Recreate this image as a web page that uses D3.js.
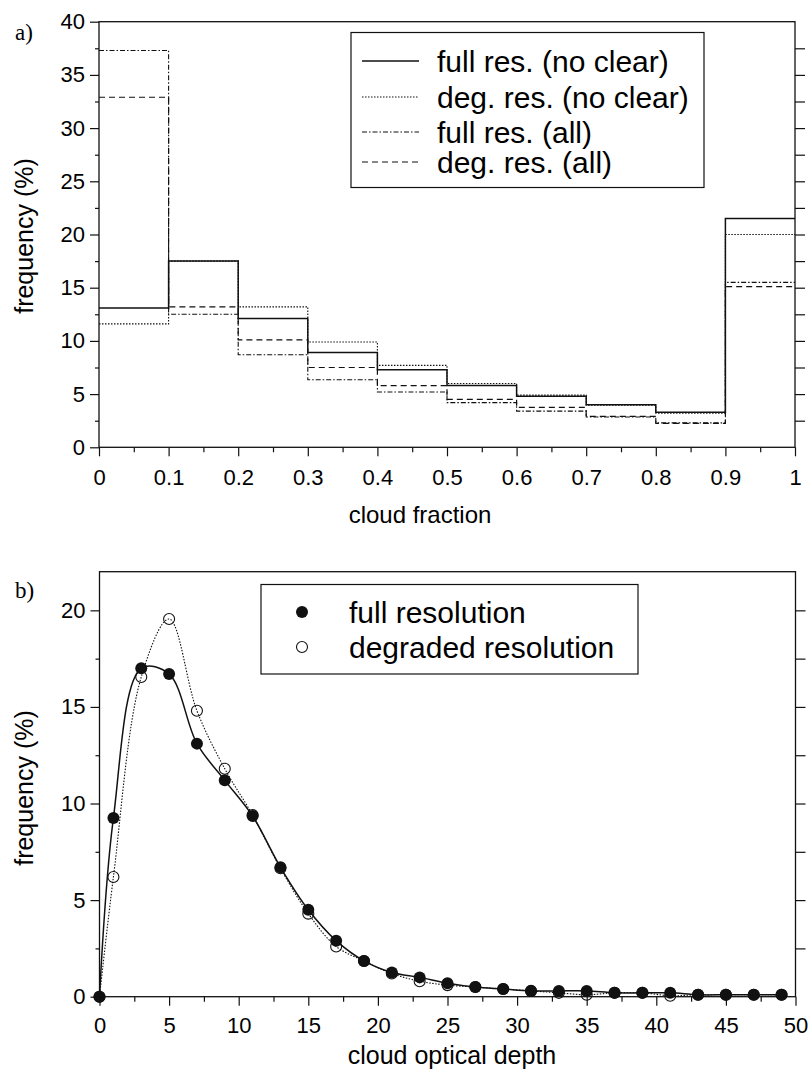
<!DOCTYPE html>
<html>
<head>
<meta charset="utf-8">
<script src="https://cdn.jsdelivr.net/npm/d3@7"></script>
<style>
  body { margin: 0; background: #fff; }
  svg { display: block; }
</style>
</head>
<body>
<script>
// ---- panel a: cloud fraction histograms (%)
const cfBins = [0, 0.1, 0.2, 0.3, 0.4, 0.5, 0.6, 0.7, 0.8, 0.9];
const fullNoClear = [13.1, 17.5, 12.1, 8.9, 7.3, 5.8, 4.8, 4.0, 3.3, 21.5];
const degNoClear  = [11.6, 17.5, 13.2, 9.9, 7.7, 6.0, 4.9, 3.95, 3.2, 20.0];
const fullAll     = [37.3, 12.5, 8.7, 6.35, 5.2, 4.2, 3.4, 2.85, 2.3, 15.5];
const degAll      = [32.9, 13.2, 10.1, 7.5, 5.8, 4.5, 3.75, 2.9, 2.25, 15.1];
const cfTicks = [0, 0.1, 0.2, 0.3, 0.4, 0.5, 0.6, 0.7, 0.8, 0.9, 1];
const freqTicksA = [0, 5, 10, 15, 20, 25, 30, 35, 40];

// ---- panel b: cloud optical depth
const odX = [0, 1, 3, 5, 7, 9, 11, 13, 15, 17, 19, 21, 23, 25, 27, 29, 31, 33, 35, 37, 39, 41, 43, 45, 47, 49];
const fullRes = [0, 9.25, 17.0, 16.7, 13.1, 11.2, 9.35, 6.7, 4.5, 2.9, 1.85, 1.25, 1.0, 0.7, 0.5, 0.4, 0.3, 0.3, 0.3, 0.2, 0.2, 0.2, 0.1, 0.1, 0.1, 0.1];
const degRes  = [0, 6.2, 16.55, 19.55, 14.8, 11.8, 9.4, 6.65, 4.3, 2.6, 1.85, 1.2, 0.8, 0.6, 0.5, 0.4, 0.3, 0.2, 0.1, 0.2, 0.2, 0.05, 0.1, 0.1, 0.1, 0.1];
const odTicks = [0, 5, 10, 15, 20, 25, 30, 35, 40, 45, 50];
const freqTicksB = [0, 5, 10, 15, 20];

const W = 810, H = 1076;
const sans = "'Liberation Sans', Arial, Helvetica, sans-serif";
const serif = "'Liberation Serif', 'Times New Roman', serif";

const svg = d3.select("body").append("svg")
    .attr("width", W)
    .attr("height", H)
    .attr("viewBox", [0, 0, W, H])
    .attr("font-family", sans);

// styles for the four histogram lines
const histSeries = [
    {name: "full res. (no clear)", values: fullNoClear, dash: null, width: 1.5, ly: 61},
    {name: "deg. res. (no clear)", values: degNoClear, dash: "1.5,1.5", width: 1.1, ly: 97},
    {name: "full res. (all)", values: fullAll, dash: "5,2,1.5,2", width: 1.1, ly: 132},
    {name: "deg. res. (all)", values: degAll, dash: "6,4", width: 1.2, ly: 162}
];

function frame(g, x, y) {
    const [x0, x1] = x.range();
    const [y0, y1] = y.range();
    g.append("rect")
        .attr("x", x0).attr("y", y1)
        .attr("width", x1 - x0).attr("height", y0 - y1)
        .attr("fill", "none").attr("stroke", "#111").attr("stroke-width", 1.3);
}

function axes(g, x, y, o) {
    const [x0, x1] = x.range();
    const y0 = y.range()[0];

    // bottom, major + minor
    g.append("g").attr("transform", `translate(0,${y0})`)
        .call(d3.axisBottom(x).tickValues(o.xTicks).tickSize(9).tickPadding(o.xPad).tickFormat(o.xFmt))
        .call(a => a.select(".domain").remove())
        .call(a => a.selectAll("text").attr("font-size", 22).attr("font-family", sans).attr("fill", "#000"));
    g.append("g").attr("transform", `translate(0,${y0})`)
        .call(d3.axisBottom(x).tickValues(o.xMinor).tickSize(5).tickFormat(""))
        .call(a => a.select(".domain").remove());

    // left, major + minor
    g.append("g").attr("transform", `translate(${x0},0)`)
        .call(d3.axisLeft(y).tickValues(o.yTicks).tickSize(9).tickPadding(5))
        .call(a => a.select(".domain").remove())
        .call(a => a.selectAll("text").attr("font-size", 22).attr("font-family", sans).attr("fill", "#000"));
    g.append("g").attr("transform", `translate(${x0},0)`)
        .call(d3.axisLeft(y).tickValues(o.yMinor).tickSize(4).tickFormat(""))
        .call(a => a.select(".domain").remove());

    // right, outward ticks every 2.5
    g.append("g").attr("transform", `translate(${x1},0)`)
        .call(d3.axisRight(y).tickValues(o.yRight).tickSize(10).tickFormat(""))
        .call(a => a.select(".domain").remove());

    g.selectAll(".tick line").attr("stroke", "#111").attr("stroke-width", 1.2);
}

// ================= panel a =================
const xA = d3.scaleLinear([0, 1], [99, 795]);
const yA = d3.scaleLinear([0, 40], [447.3, 21.7]);
const gA = svg.append("g");

const stepLine = d3.line()
    .x(d => xA(d[0]))
    .y(d => yA(d[1]))
    .curve(d3.curveStepAfter);

histSeries.forEach(s => {
    const pts = cfBins.map((b, i) => [b, s.values[i]]);
    pts.push([1, s.values[s.values.length - 1]]);
    gA.append("path")
        .attr("d", stepLine(pts))
        .attr("fill", "none")
        .attr("stroke", "#111")
        .attr("stroke-width", s.width)
        .attr("stroke-dasharray", s.dash);
});

frame(gA, xA, yA);
axes(gA, xA, yA, {
    xTicks: cfTicks,
    xMinor: d3.range(0.05, 1, 0.1),
    xFmt: d => d === 0 || d === 1 ? d3.format("d")(d) : d3.format(".1f")(d),
    xPad: 13,
    yTicks: freqTicksA,
    yMinor: d3.range(2.5, 40, 5),
    yRight: d3.range(2.5, 40, 2.5)
});

// legend a
const legA = gA.append("g");
legA.append("rect")
    .attr("x", 351).attr("y", 32.5).attr("width", 353).attr("height", 155)
    .attr("fill", "#fff").attr("stroke", "#111").attr("stroke-width", 1.2);
histSeries.forEach(s => {
    legA.append("line")
        .attr("x1", 362).attr("x2", 419).attr("y1", s.ly).attr("y2", s.ly)
        .attr("stroke", "#111").attr("stroke-width", s.width)
        .attr("stroke-dasharray", s.dash);
    legA.append("text")
        .attr("x", 437).attr("y", s.ly).attr("dy", "0.35em")
        .attr("font-size", 30).attr("fill", "#000")
        .text(s.name);
});

gA.append("text")
    .attr("x", 420).attr("y", 523)
    .attr("text-anchor", "middle").attr("font-size", 24).attr("fill", "#000")
    .text("cloud fraction");
gA.append("text")
    .attr("transform", "translate(33,236) rotate(-90)")
    .attr("text-anchor", "middle").attr("font-size", 25).attr("fill", "#000")
    .text("frequency (%)");
gA.append("text")
    .attr("x", 15).attr("y", 40)
    .attr("font-family", serif)
    .attr("font-size", 23).attr("fill", "#000")
    .text("a)");

// ================= panel b =================
const xB = d3.scaleLinear([0, 50], [99.5, 795.5]);
const yB = d3.scaleLinear([0, 22], [996.7, 571.7]);
const gB = svg.append("g");

const smooth = d3.line()
    .x((d, i) => xB(odX[i]))
    .y(d => yB(d))
    .curve(d3.curveCatmullRom.alpha(0.5));

gB.append("path")
    .attr("d", smooth(degRes))
    .attr("fill", "none").attr("stroke", "#111").attr("stroke-width", 1.1)
    .attr("stroke-dasharray", "1.5,1.5");
gB.append("path")
    .attr("d", smooth(fullRes))
    .attr("fill", "none").attr("stroke", "#111").attr("stroke-width", 1.5);

gB.append("g").selectAll("circle")
    .data(degRes)
    .join("circle")
    .attr("cx", (d, i) => xB(odX[i]))
    .attr("cy", d => yB(d))
    .attr("r", 5.5)
    .attr("fill", "none").attr("stroke", "#111").attr("stroke-width", 1.1);
gB.append("g").selectAll("circle")
    .data(fullRes)
    .join("circle")
    .attr("cx", (d, i) => xB(odX[i]))
    .attr("cy", d => yB(d))
    .attr("r", 6)
    .attr("fill", "#111");

frame(gB, xB, yB);
axes(gB, xB, yB, {
    xTicks: odTicks,
    xMinor: d3.range(2.5, 50, 5),
    xFmt: d3.format("d"),
    xPad: 12,
    yTicks: freqTicksB,
    yMinor: d3.range(2.5, 22, 5),
    yRight: d3.range(2.5, 22, 2.5)
});

// legend b
const legB = gB.append("g");
legB.append("rect")
    .attr("x", 261).attr("y", 584.5).attr("width", 377).attr("height", 89.5)
    .attr("fill", "#fff").attr("stroke", "#111").attr("stroke-width", 1.2);
legB.append("circle").attr("cx", 302).attr("cy", 612).attr("r", 6).attr("fill", "#111");
legB.append("circle").attr("cx", 302).attr("cy", 647).attr("r", 5.5)
    .attr("fill", "none").attr("stroke", "#111").attr("stroke-width", 1.1);
legB.append("text")
    .attr("x", 349).attr("y", 612).attr("dy", "0.35em")
    .attr("font-size", 30).attr("fill", "#000")
    .text("full resolution");
legB.append("text")
    .attr("x", 349).attr("y", 647).attr("dy", "0.35em")
    .attr("font-size", 30).attr("fill", "#000")
    .text("degraded resolution");

gB.append("text")
    .attr("x", 452).attr("y", 1064)
    .attr("text-anchor", "middle").attr("font-size", 25).attr("fill", "#000")
    .text("cloud optical depth");
gB.append("text")
    .attr("transform", "translate(33,788) rotate(-90)")
    .attr("text-anchor", "middle").attr("font-size", 25).attr("fill", "#000")
    .text("frequency (%)");
gB.append("text")
    .attr("x", 15).attr("y", 598)
    .attr("font-family", serif)
    .attr("font-size", 23).attr("fill", "#000")
    .text("b)");
</script>
</body>
</html>
